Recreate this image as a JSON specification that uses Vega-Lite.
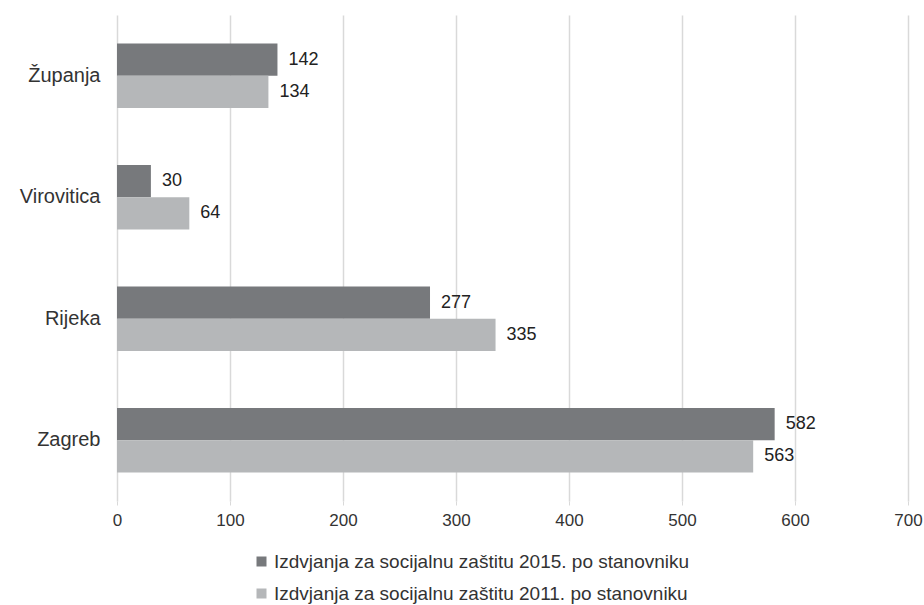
{
  "$schema": "https://vega.github.io/schema/vega-lite/v6.json",
  "width": 791,
  "height": 486,
  "autosize": {"type": "none"},
  "padding": {"left": 117, "top": 15, "right": 16, "bottom": 104},
  "background": "white",
  "config": {
    "font": "Liberation Sans",
    "view": {"stroke": null}
  },
  "data": {
    "values": [
      {"grad": "Županja", "serija": "Izdvjanja za socijalnu  zaštitu 2015. po stanovniku", "v": 142},
      {"grad": "Županja", "serija": "Izdvjanja za socijalnu  zaštitu 2011. po stanovniku", "v": 134},
      {"grad": "Virovitica", "serija": "Izdvjanja za socijalnu  zaštitu 2015. po stanovniku", "v": 30},
      {"grad": "Virovitica", "serija": "Izdvjanja za socijalnu  zaštitu 2011. po stanovniku", "v": 64},
      {"grad": "Rijeka", "serija": "Izdvjanja za socijalnu  zaštitu 2015. po stanovniku", "v": 277},
      {"grad": "Rijeka", "serija": "Izdvjanja za socijalnu  zaštitu 2011. po stanovniku", "v": 335},
      {"grad": "Zagreb", "serija": "Izdvjanja za socijalnu  zaštitu 2015. po stanovniku", "v": 582},
      {"grad": "Zagreb", "serija": "Izdvjanja za socijalnu  zaštitu 2011. po stanovniku", "v": 563}
    ]
  },
  "encoding": {
    "y": {
      "field": "grad", "type": "nominal",
      "sort": ["Županja", "Virovitica", "Rijeka", "Zagreb"],
      "scale": {"paddingInner": 0.47, "paddingOuter": 0.235},
      "axis": {"title": null, "domain": false, "ticks": false, "labelFontSize": 20, "labelColor": "#333333", "labelPadding": 17}
    },
    "yOffset": {
      "field": "serija", "type": "nominal",
      "sort": ["Izdvjanja za socijalnu  zaštitu 2015. po stanovniku", "Izdvjanja za socijalnu  zaštitu 2011. po stanovniku"]
    },
    "x": {
      "field": "v", "type": "quantitative",
      "scale": {"domain": [0, 700], "nice": false},
      "axis": {"title": null, "domain": false, "ticks": true, "tickSize": 4, "tickColor": "#d9d9d9", "tickCount": 7, "gridColor": "#d9d9d9", "gridWidth": 1.5, "labelFontSize": 17, "labelColor": "#333333", "labelPadding": 7, "labelFlush": false}
    }
  },
  "layer": [
    {
      "mark": {"type": "bar"},
      "encoding": {
        "color": {
          "field": "serija", "type": "nominal",
          "sort": ["Izdvjanja za socijalnu  zaštitu 2015. po stanovniku", "Izdvjanja za socijalnu  zaštitu 2011. po stanovniku"],
          "scale": {"range": ["#77797c", "#b5b7b9"]},
          "legend": {
            "title": null, "orient": "none", "legendX": 135, "legendY": 537,
            "direction": "vertical", "symbolType": "square", "symbolSize": 100,
            "labelFontSize": 19, "labelColor": "#333333", "rowPadding": 12, "labelOffset": 3, "labelLimit": 700
          }
        }
      }
    },
    {
      "mark": {"type": "text", "align": "left", "baseline": "middle", "dx": 11, "fontSize": 18, "color": "#222222"},
      "encoding": {"text": {"field": "v", "type": "quantitative"}}
    }
  ]
}
